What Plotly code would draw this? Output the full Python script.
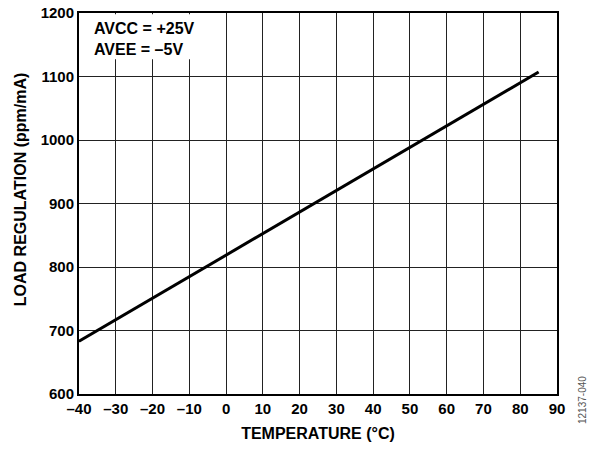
import plotly.graph_objects as go

# load regulation vs temperature
temperature = [-40, -20, 0, 20, 40, 60, 85]
load_regulation = [683, 751, 819, 887, 955, 1022, 1107]

x_ticks = [-40, -30, -20, -10, 0, 10, 20, 30, 40, 50, 60, 70, 80, 90]
x_labels = ["–40", "–30", "–20", "–10", "0", "10", "20", "30", "40", "50", "60", "70", "80", "90"]
y_ticks = [600, 700, 800, 900, 1000, 1100, 1200]

FONT = "Liberation Sans, Arial, sans-serif"

fig = go.Figure()
fig.add_trace(go.Scatter(
    x=temperature, y=load_regulation, mode="lines",
    line=dict(color="black", width=3), showlegend=False,
))

# white box behind the supply annotation hides the grid
fig.add_shape(type="rect", xref="x", yref="y", x0=-39.7, x1=-6, y0=1127, y1=1198,
              fillcolor="white", line=dict(width=0), layer="above")

fig.add_annotation(
    x=-40, y=1200, xref="x", yref="y", xanchor="left", yanchor="top",
    xshift=13, yshift=-5, showarrow=False, align="left",
    text="<b>AVCC = +25V<br>AVEE = –5V</b>",
    font=dict(family=FONT, size=16, color="black"),
)

# y title sits a bit above the plot centre in the original
fig.add_annotation(
    x=0, y=0.535, xref="paper", yref="paper", xanchor="center", yanchor="middle",
    xshift=-59, showarrow=False, textangle=-90,
    text="<b>LOAD REGULATION (ppm/mA)</b>",
    font=dict(family=FONT, size=16, color="black"),
)

fig.add_annotation(
    x=1.0, y=0, xref="paper", yref="paper", xanchor="center", yanchor="middle",
    xshift=25, yshift=-6, showarrow=False, textangle=-90,
    text="12137-040", font=dict(family=FONT, size=10, color="#555555"),
)

fig.update_xaxes(
    range=[-40, 90], tickvals=x_ticks, ticktext=x_labels,
    showgrid=True, gridcolor="#222222", gridwidth=1,
    showline=True, linecolor="black", linewidth=2, mirror=True,
    zeroline=False, ticks="", automargin=False,
    tickfont=dict(family=FONT, size=15, color="black", weight="bold"),
    title=dict(text="<b>TEMPERATURE (°C)</b>", font=dict(family=FONT, size=16, color="black"), standoff=12),
)
fig.update_yaxes(
    range=[600, 1200], tickvals=y_ticks,
    showgrid=True, gridcolor="#222222", gridwidth=1,
    showline=True, linecolor="black", linewidth=2, mirror=True,
    zeroline=False, ticks="", automargin=False,
    tickfont=dict(family=FONT, size=15, color="black", weight="bold"),
)

fig.update_layout(
    width=595, height=453,
    margin=dict(l=79, r=38, t=13, b=59),
    plot_bgcolor="white", paper_bgcolor="white",
)

fig.write_html("out.html", config={"displayModeBar": False},
               post_script="document.body.style.margin='0px';")
